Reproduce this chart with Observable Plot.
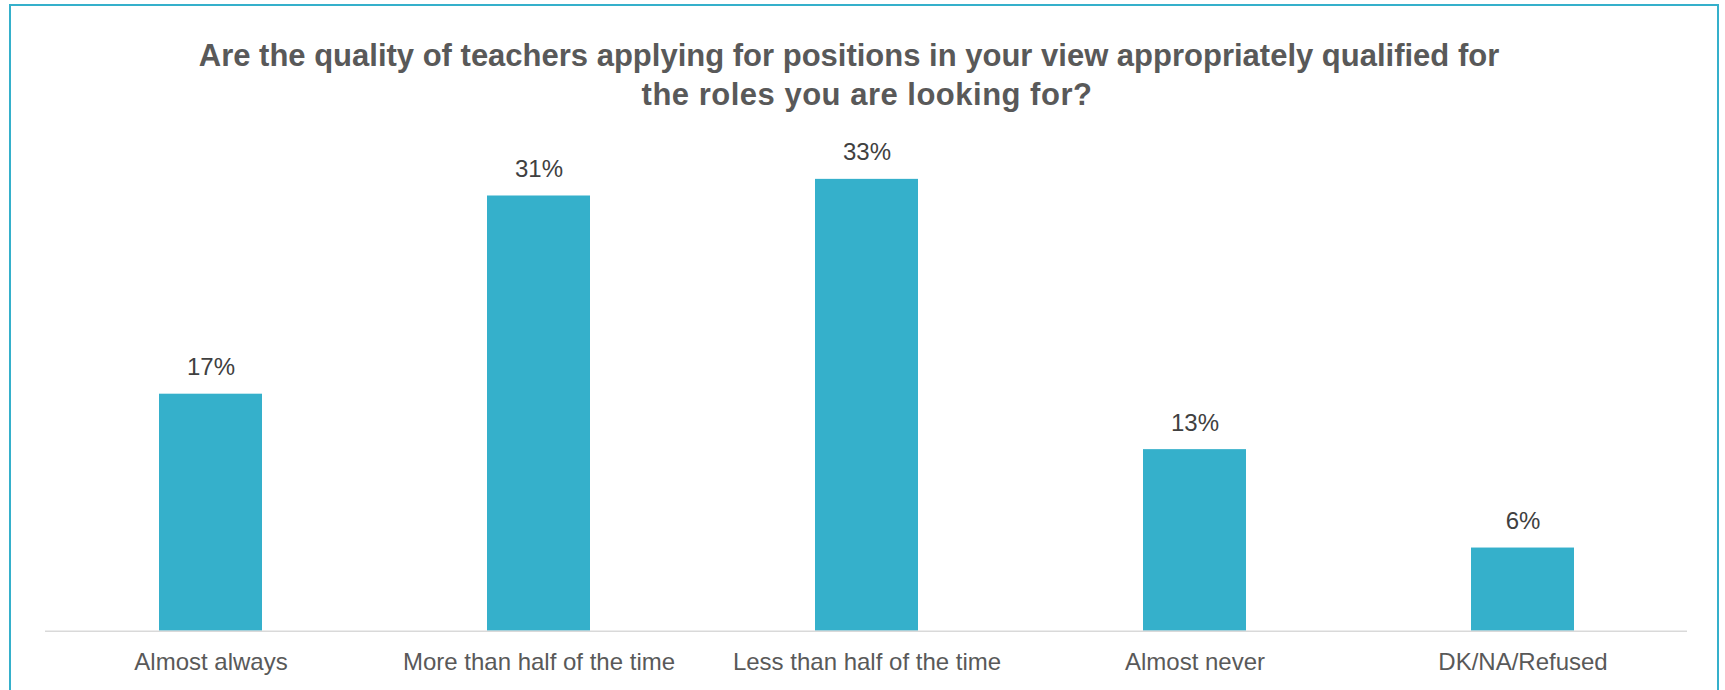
<!DOCTYPE html>
<html>
<head>
<meta charset="utf-8">
<script src="https://cdn.jsdelivr.net/npm/d3@7"></script>
<script src="https://cdn.jsdelivr.net/npm/@observablehq/plot@0.6"></script>
<style>
  html, body { margin: 0; padding: 0; background: #fff; overflow: hidden; }
  #wrap { position: relative; width: 1725px; height: 690px; font-family: "Liberation Sans", Arial, sans-serif; }
  #frame { position: absolute; left: 9px; top: 4px; width: 1710px; height: 800px; box-sizing: border-box; border: 2px solid #35B0CB; pointer-events: none; }
  #title { position: relative; height: 130px; color: #595959; font-weight: bold; font-size: 31px; }
  #title .l1 { position: absolute; left: 0; width: 1698px; top: 38px; text-align: center; white-space: nowrap; line-height: 36px; }
  #title .l2 { position: absolute; left: 18px; width: 1698px; top: 77px; text-align: center; white-space: nowrap; line-height: 36px; letter-spacing: 0.5px; }
  #chart svg { display: block; }
</style>
</head>
<body>
<div id="wrap">
  <div id="frame"></div>
  <div id="title"><div class="l1">Are the quality of teachers applying for positions in your view appropriately qualified for</div><div class="l2">the roles you are looking for?</div></div>
  <div id="chart"></div>
</div>
<script>
const categories = ["Almost always", "More than half of the time", "Less than half of the time", "Almost never", "DK/NA/Refused"];
const values = [17.1, 31.4, 32.6, 13.1, 6.0];
const labels = ["17%", "31%", "33%", "13%", "6%"];

const data = categories.map((c, i) => ({cat: c, value: values[i], label: labels[i]}));

const chart = Plot.plot({
  width: 1725,
  height: 560,
  marginLeft: 45,
  marginRight: 38,
  marginTop: 15.6,
  marginBottom: 59.3,
  style: {fontFamily: "Liberation Sans, Arial, sans-serif", background: "transparent"},
  x: {domain: categories, paddingInner: 0.687, paddingOuter: 0.3435, label: null},
  y: {domain: [0, 35], axis: null},
  marks: [
    Plot.barY(data, {x: "cat", y: "value", fill: "#35B0CB"}),
    Plot.text(data, {x: "cat", y: "value", text: "label", lineAnchor: "bottom", dy: -19, fontSize: 24, fill: "#404040"}),
    Plot.ruleY([0], {stroke: "#D9D9D9", strokeWidth: 1.5}),
    Plot.axisX({tickSize: 0, tickPadding: 22, fontSize: 24, color: "#595959", label: null})
  ]
});
document.getElementById("chart").appendChild(chart);
</script>
</body>
</html>
